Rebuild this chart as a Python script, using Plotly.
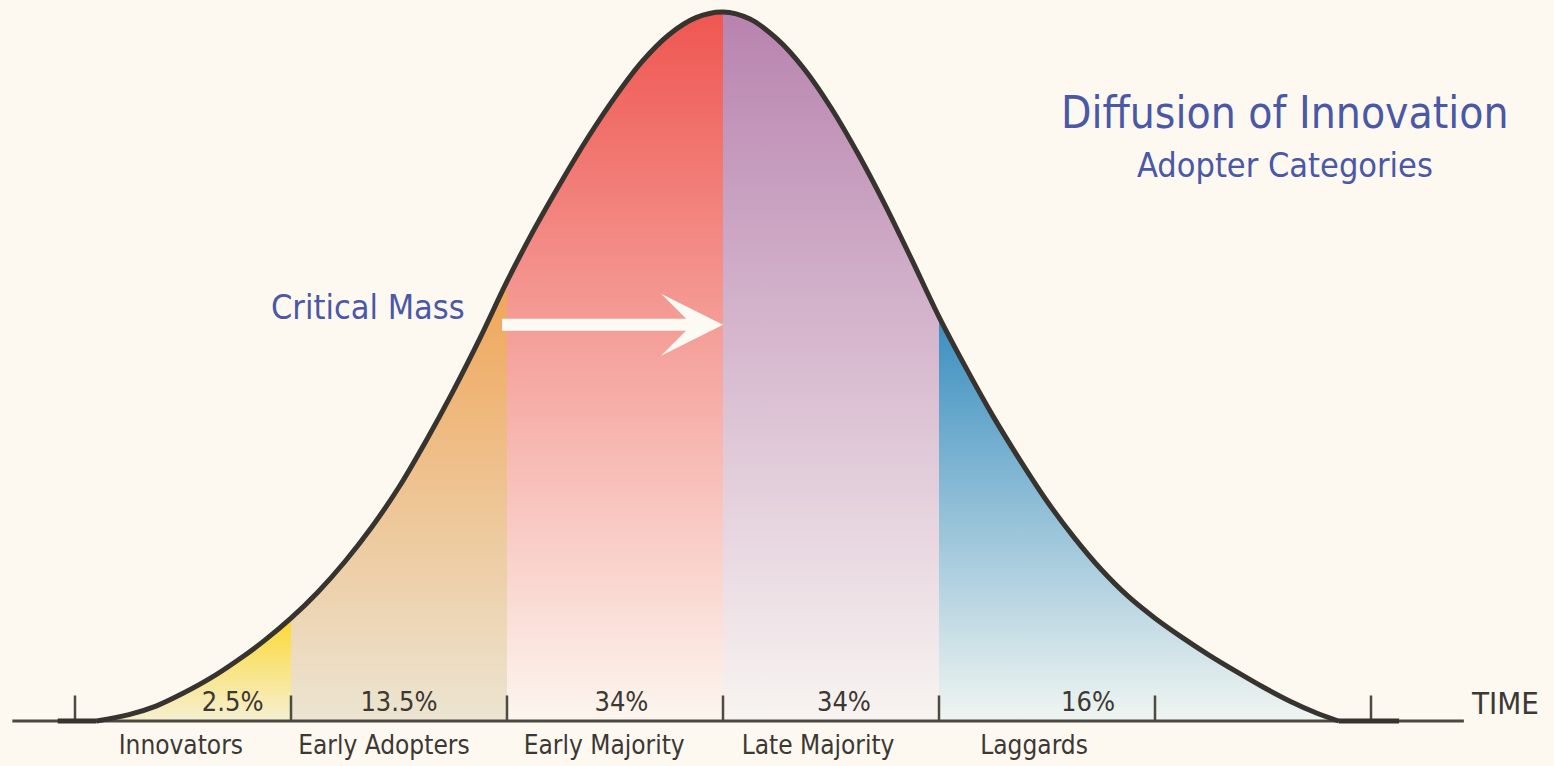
import plotly.graph_objects as go

# ---- data (x in standard deviations from the mean, height in % of peak) ----
curve_s = [-2.9, -2.75, -2.625, -2.5, -2.375, -2.25, -2.125, -2.0, -1.875, -1.75, -1.625, -1.5,
           -1.375, -1.25, -1.125, -1.0, -0.875, -0.75, -0.625, -0.5, -0.375, -0.25, -0.125, 0.0,
           0.125, 0.25, 0.375, 0.5, 0.625, 0.75, 0.875, 1.0, 1.125, 1.25, 1.375, 1.5, 1.625,
           1.75, 1.875, 2.0, 2.125, 2.25, 2.375, 2.5, 2.625, 2.75, 2.85]
curve_h = [0.0, 0.9, 2.1, 3.9, 6.0, 8.5, 11.3, 14.5, 18.2, 22.5, 27.4, 33.0,
           39.5, 46.5, 54.0, 62.0, 69.3, 76.0, 82.3, 88.0, 93.0, 96.8, 99.2, 100.0,
           99.0, 96.2, 92.0, 86.5, 80.0, 72.8, 65.0, 57.0, 49.8, 43.0, 36.8, 31.0, 25.9,
           21.4, 17.6, 14.5, 11.8, 9.3, 7.0, 4.8, 2.8, 1.1, 0.0]
flat_left = [-3.08, -2.9]
flat_right = [2.85, 3.13]

categories = ["Innovators", "Early Adopters", "Early Majority", "Late Majority", "Laggards"]
shares = ["2.5%", "13.5%", "34%", "34%", "16%"]
bounds = [-2.9, -2.0, -1.0, 0.0, 1.0, 2.85]
share_pos = [-2.27, -1.5, -0.47, 0.56, 1.69]
cat_pos = [-2.51, -1.57, -0.55, 0.44, 1.44]
tick_s = [-3, -2, -1, 0, 1, 2, 3]

top_colors = ["#fcd833", "#f0a558", "#ef5651", "#b883af", "#3a8ec0"]
bottom_colors = ["#f6f0d2", "#ece5d2", "#fcf6ef", "#f8f4f1", "#f0f5f1"]

BG = "#fdf9f1"
INK = "#37332f"
BLUE = "#4a58a6"
FONT = "DejaVu Sans Condensed, DejaVu Sans, sans-serif"

fig = go.Figure()

# segment fills with vertical gradients
for i, name in enumerate(categories):
    lo, hi = bounds[i], bounds[i + 1]
    xs = [s for s in curve_s if lo <= s <= hi]
    ys = [h for s, h in zip(curve_s, curve_h) if lo <= s <= hi]
    fig.add_trace(go.Scatter(
        x=xs, y=ys, mode="lines", line=dict(width=0, shape="spline", smoothing=0.9),
        fill="tozeroy",
        fillgradient=dict(type="vertical",
                          colorscale=[[0, bottom_colors[i]], [1, top_colors[i]]],
                          start=0, stop=max(ys)),
        hoverinfo="skip", showlegend=False, name=name))

# baseline
fig.add_trace(go.Scatter(x=[-3.29, 3.43], y=[0, 0], mode="lines",
                         line=dict(color="#4d4943", width=3), hoverinfo="skip", showlegend=False))

# tick marks
tx, ty = [], []
for t in tick_s:
    tx += [t, t, None]
    ty += [0, 3.6, None]
fig.add_trace(go.Scatter(x=tx, y=ty, mode="lines", line=dict(color="#4d4943", width=2.5),
                         hoverinfo="skip", showlegend=False))

# bell curve outline
fig.add_trace(go.Scatter(x=curve_s, y=curve_h, mode="lines",
                         line=dict(color=INK, width=5, shape="spline", smoothing=0.9),
                         hoverinfo="skip", showlegend=False))
for seg in (flat_left, flat_right):
    fig.add_trace(go.Scatter(x=seg, y=[0, 0], mode="lines",
                             line=dict(color=INK, width=5),
                             hoverinfo="skip", showlegend=False))

# share labels
fig.add_trace(go.Scatter(x=share_pos, y=[2.35] * len(shares), mode="text", text=shares,
                         textfont=dict(family=FONT, size=27, color="#3c3833"),
                         hoverinfo="skip", showlegend=False))
# category labels
fig.add_trace(go.Scatter(x=cat_pos, y=[-3.8] * len(categories), mode="text", text=categories,
                         textfont=dict(family=FONT, size=26, color="#3c3833"),
                         hoverinfo="skip", showlegend=False))

# TIME label
fig.add_annotation(x=3.62, y=2.6, text="TIME", showarrow=False,
                   font=dict(family=FONT, size=31, color="#3c3833"))

# titles
fig.add_annotation(x=2.6, y=85.8, text="Diffusion of Innovation", showarrow=False,
                   font=dict(family=FONT, size=44, color=BLUE))
fig.add_annotation(x=2.6, y=78.4, text="Adopter Categories", showarrow=False,
                   font=dict(family=FONT, size=34, color=BLUE))

# critical mass
fig.add_annotation(x=-1.645, y=58.4, text="Critical Mass", showarrow=False,
                   font=dict(family=FONT, size=34, color=BLUE))
fig.add_annotation(x=0.0, y=55.9, ax=-1.03, ay=55.9, axref="x", ayref="y", xref="x", yref="y",
                   text="", showarrow=True, arrowhead=3, arrowsize=0.86, arrowwidth=12,
                   arrowcolor="#fdfaf4")

fig.update_layout(
    width=1554, height=766, autosize=False,
    margin=dict(l=0, r=0, t=0, b=0),
    paper_bgcolor=BG, plot_bgcolor=BG,
    xaxis=dict(range=[-723 / 216, (1554 - 723) / 216], visible=False, fixedrange=True),
    yaxis=dict(range=[-45 / 7.09, 721 / 7.09], visible=False, fixedrange=True),
    showlegend=False,
)

fig.write_html("out.html", config={"displayModeBar": False},
               post_script="document.body.style.margin='0';document.body.style.background='#fdf9f1';")
